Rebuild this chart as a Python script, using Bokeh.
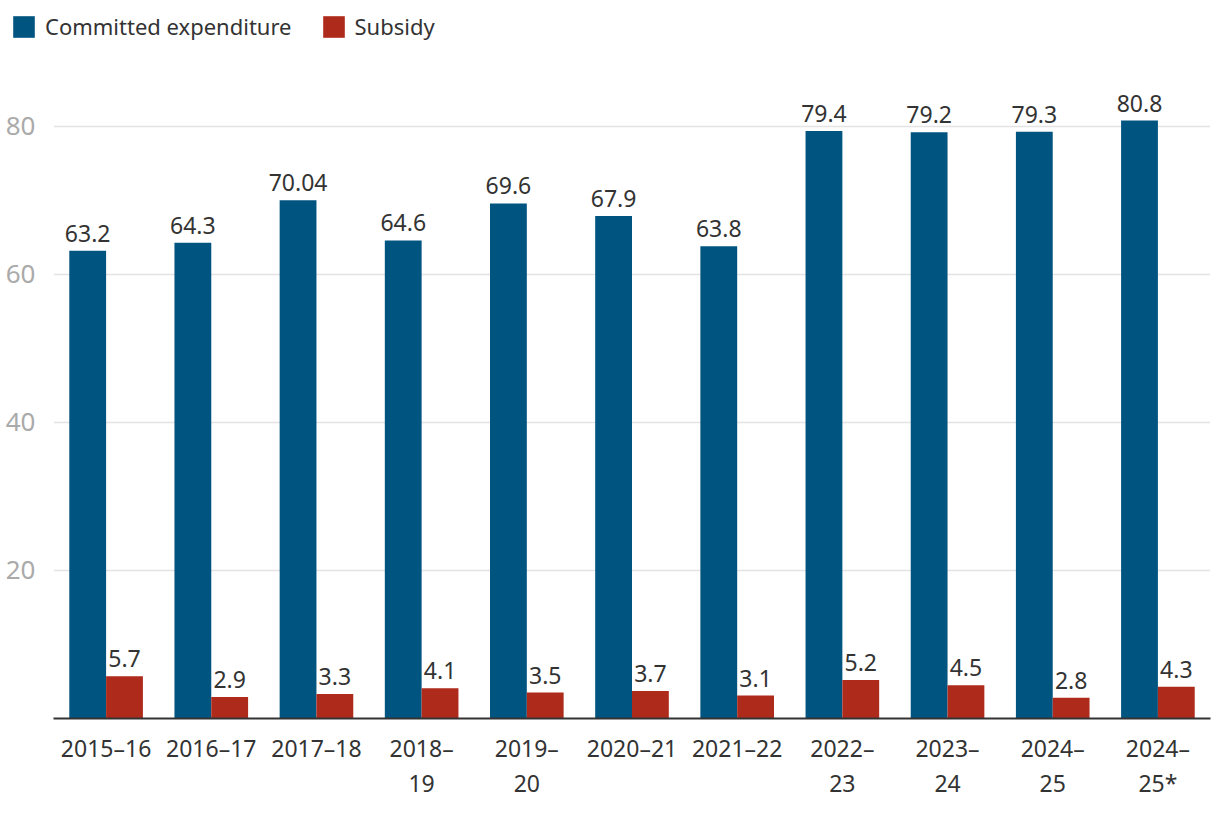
from bokeh.plotting import figure
from bokeh.layouts import column, row
from bokeh.models import ColumnDataSource, FixedTicker, Legend, LegendItem
from bokeh.transform import dodge
from bokeh.embed import file_html
from bokeh.resources import INLINE

years = ["2015–16", "2016–17", "2017–18", "2018–\n19", "2019–\n20", "2020–21",
         "2021–22", "2022–\n23", "2023–\n24", "2024–\n25", "2024–\n25*"]
committed = [63.2, 64.3, 70.04, 64.6, 69.6, 67.9, 63.8, 79.4, 79.2, 79.3, 80.8]
subsidy = [5.7, 2.9, 3.3, 4.1, 3.5, 3.7, 3.1, 5.2, 4.5, 2.8, 4.3]
committed_labels = ["63.2", "64.3", "70.04", "64.6", "69.6", "67.9", "63.8", "79.4", "79.2", "79.3", "80.8"]
subsidy_labels = ["5.7", "2.9", "3.3", "4.1", "3.5", "3.7", "3.1", "5.2", "4.5", "2.8", "4.3"]
series_names = ["Committed expenditure", "Subsidy"]

BLUE = "#005480"
RED = "#ae2a1b"
FONT = "Noto Sans"
W = 1220

src = ColumnDataSource(dict(year=years, committed=committed, subsidy=subsidy,
                            cl=committed_labels, sl=subsidy_labels))

# ---------- legend strip (legend handles only; its bars fall far outside the view) ----------
lg = figure(x_range=(-1000, -999), y_range=(-1000, -999), width=W, height=56,
            output_backend="svg", toolbar_location=None,
            x_axis_type=None, y_axis_type=None,
            min_border_left=0, min_border_right=0, min_border_top=0, min_border_bottom=0)
lg.outline_line_color = None
lg.xgrid.visible = False
lg.ygrid.visible = False
d1 = lg.vbar(x="committed", top="committed", width=0.35, source=src,
             color=BLUE, line_color=None)
d2 = lg.vbar(x="subsidy", top="subsidy", width=0.35, source=src,
             color=RED, line_color=None)
legend = Legend(items=[LegendItem(label=series_names[0], renderers=[d1]),
                       LegendItem(label=series_names[1], renderers=[d2])],
                location=(10, 15), orientation="horizontal",
                glyph_width=27, glyph_height=27, label_standoff=8, spacing=28,
                padding=0, margin=0, border_line_color=None,
                background_fill_alpha=0,
                label_text_font=FONT, label_text_font_size="22px",
                label_text_color="#333333")
lg.add_layout(legend, "center")

# ---------- main chart ----------
p = figure(x_range=years, y_range=(0, 88.1), width=W, height=760,
           output_backend="svg", toolbar_location=None,
           min_border_left=53, min_border_right=10, min_border_top=10, min_border_bottom=98)
p.x_range.range_padding = 0
p.outline_line_color = None

w = 0.35
p.vbar(x=dodge("year", -w / 2, range=p.x_range), top="committed", width=w,
       source=src, color=BLUE, line_color=None)
p.vbar(x=dodge("year", w / 2, range=p.x_range), top="subsidy", width=w,
       source=src, color=RED, line_color=None)

p.text(x=dodge("year", -w / 2, range=p.x_range), y="committed", text="cl", source=src,
       text_align="center", text_baseline="bottom", y_offset=-9,
       text_font={"value": FONT}, text_font_size="23px", text_color="#333333")
p.text(x=dodge("year", w / 2, range=p.x_range), y="subsidy", text="sl", source=src,
       text_align="center", text_baseline="bottom", y_offset=-9,
       text_font={"value": FONT}, text_font_size="23px", text_color="#333333")

p.yaxis.ticker = FixedTicker(ticks=[20, 40, 60, 80])
p.yaxis.axis_line_color = None
p.yaxis.major_tick_line_color = None
p.yaxis.minor_tick_line_color = None
p.yaxis.major_label_text_color = "#aaaaaa"
p.yaxis.major_label_text_font = FONT
p.yaxis.major_label_text_font_size = "26px"
p.yaxis.major_label_standoff = 12

p.xaxis.axis_line_color = "#333333"
p.xaxis.axis_line_width = 2
p.xaxis.major_tick_line_color = None
p.xaxis.minor_tick_line_color = None
p.xaxis.major_label_text_color = "#333333"
p.xaxis.major_label_text_font = FONT
p.xaxis.major_label_text_font_size = "23px"
p.xaxis.major_label_text_line_height = 1.1
p.xaxis.major_label_standoff = 7

p.xgrid.grid_line_color = None
p.ygrid.grid_line_color = "#e3e3e3"
p.ygrid.grid_line_width = 1.5

layout = column(row(lg), p, spacing=0)
open("out.html", "w").write(file_html(layout, INLINE))
